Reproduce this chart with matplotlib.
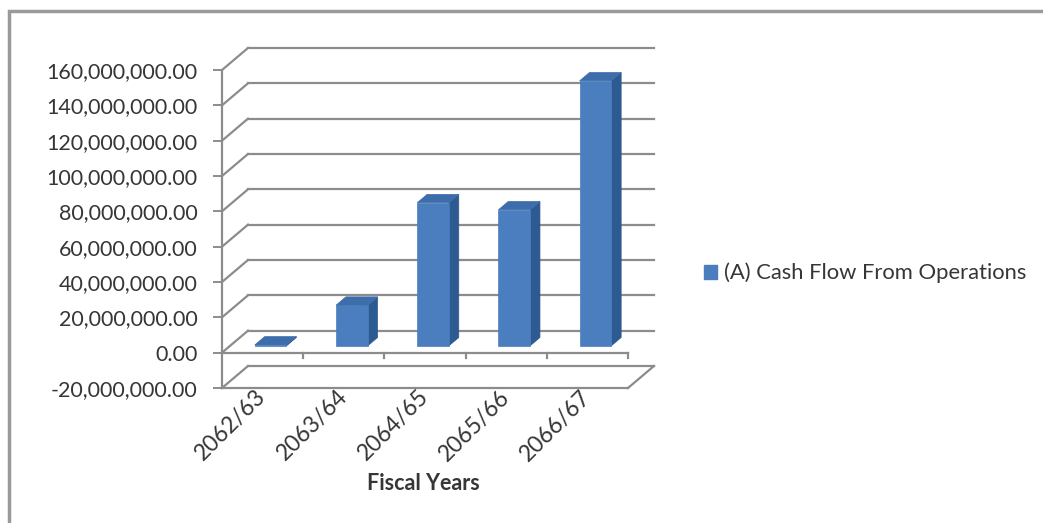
import numpy as np
import matplotlib
matplotlib.use("Agg")
import matplotlib.pyplot as plt
from matplotlib.patches import Polygon, Rectangle, Patch
from matplotlib.ticker import FuncFormatter

plt.rcParams["font.family"] = ["Lato", "DejaVu Sans"]

# cash flow from operations per fiscal year
years = ["2062/63", "2063/64", "2064/65", "2065/66", "2066/67"]
cash_flow = [500000, 23000000, 81000000, 77000000, 150000000]
series_name = "(A) Cash Flow From Operations"
y_ticks = np.arange(-20000000, 160000001, 20000000)

# pseudo 3-D depth offset (in data units) and bar geometry
depth_dx = 0.32
depth_dy = 12.45e6
bar_w = 0.39
z0, z1 = 0.31, 0.69

grid_col = "#8c8c8c"
front_col = "#4a7ebf"
side_col = "#2d5a91"
top_col = "#3d6dab"
text_col = "#363636"

fig = plt.figure(figsize=(10.43, 5.23), dpi=100)
ax = fig.add_axes([222 / 1043, 135 / 523, 406 / 1043, 318 / 523])
ax.set_xlim(0, len(years))
ax.set_ylim(y_ticks[0], y_ticks[-1])

# back wall gridlines and side wall diagonals
for v in y_ticks:
    ax.plot([depth_dx, len(years) + depth_dx], [v + depth_dy, v + depth_dy],
            color=grid_col, lw=1.6, clip_on=False, zorder=1)
    ax.plot([0, depth_dx], [v, v + depth_dy], color=grid_col, lw=1.6,
            clip_on=False, zorder=1)

# floor outline at the bottom of the value range
ax.plot([len(years), len(years) + depth_dx],
        [y_ticks[0], y_ticks[0] + depth_dy], color=grid_col, lw=1.6,
        clip_on=False, zorder=1)

# front edge of the zero plane with category ticks
ax.plot([0, len(years)], [0, 0], color=grid_col, lw=1.6, clip_on=False,
        zorder=1)
for i in range(1, len(years) + 1):
    ax.plot([i, i], [0, -2.8e6], color=grid_col, lw=1.6, clip_on=False,
            zorder=1)

# bars: front face, right side face and top face
for i, v in enumerate(cash_flow):
    c = i + 0.5
    xl, xr = c - bar_w / 2, c + bar_w / 2
    ox0, oy0 = z0 * depth_dx, z0 * depth_dy
    ox1, oy1 = z1 * depth_dx, z1 * depth_dy
    front = [(xl + ox0, oy0), (xr + ox0, oy0), (xr + ox0, v + oy0),
             (xl + ox0, v + oy0)]
    side = [(xr + ox0, oy0), (xr + ox1, oy1), (xr + ox1, v + oy1),
            (xr + ox0, v + oy0)]
    top = [(xl + ox0, v + oy0), (xr + ox0, v + oy0), (xr + ox1, v + oy1),
           (xl + ox1, v + oy1)]
    ax.add_patch(Polygon(side, closed=True, fc=side_col, ec=side_col,
                         lw=0.5, clip_on=False, zorder=3))
    ax.add_patch(Polygon(front, closed=True, fc=front_col, ec=front_col,
                         lw=0.5, clip_on=False, zorder=4))
    ax.add_patch(Polygon(top, closed=True, fc=top_col, ec=top_col,
                         lw=0.5, clip_on=False, zorder=4))

# axes styling
for s in ["top", "right"]:
    ax.spines[s].set_visible(False)
ax.spines["left"].set_color(grid_col)
ax.spines["left"].set_linewidth(1.6)
ax.spines["bottom"].set_color(grid_col)
ax.spines["bottom"].set_linewidth(1.6)
ax.set_facecolor("none")

ax.set_yticks(y_ticks)
ax.yaxis.set_major_formatter(FuncFormatter(lambda v, p: "{:,.2f}".format(v)))
ax.tick_params(axis="y", direction="out", length=6.5, width=1.4,
               color=grid_col, pad=11, labelsize=15.5, labelcolor=text_col)

ax.set_xticks(np.arange(len(years)) + 0.5)
ax.set_xticklabels(years, rotation=45, ha="right", va="center",
                   rotation_mode="anchor")
ax.tick_params(axis="x", length=0, pad=4, labelsize=16.5, labelcolor=text_col)

fig.text(423 / 1043, 1 - 483 / 523, "Fiscal Years", ha="center",
         va="center", fontsize=15.5, fontweight="bold", color=text_col)

fig.legend(handles=[Patch(fc=front_col, ec=front_col)], labels=[series_name],
           loc="center left", bbox_to_anchor=(704 / 1043, 1 - 273 / 523),
           frameon=False, fontsize=15.8, labelcolor=text_col,
           handlelength=0.6, handleheight=0.6, handletextpad=0.3,
           borderpad=0, borderaxespad=0)

# outer chart border
fig.add_artist(Rectangle((9 / 1043, -0.1), 1.2, 1.1 - 11 / 523, fill=False,
                         ec="#9a9a9a", lw=2.5, transform=fig.transFigure))

fig.savefig("out.png", dpi=100)
